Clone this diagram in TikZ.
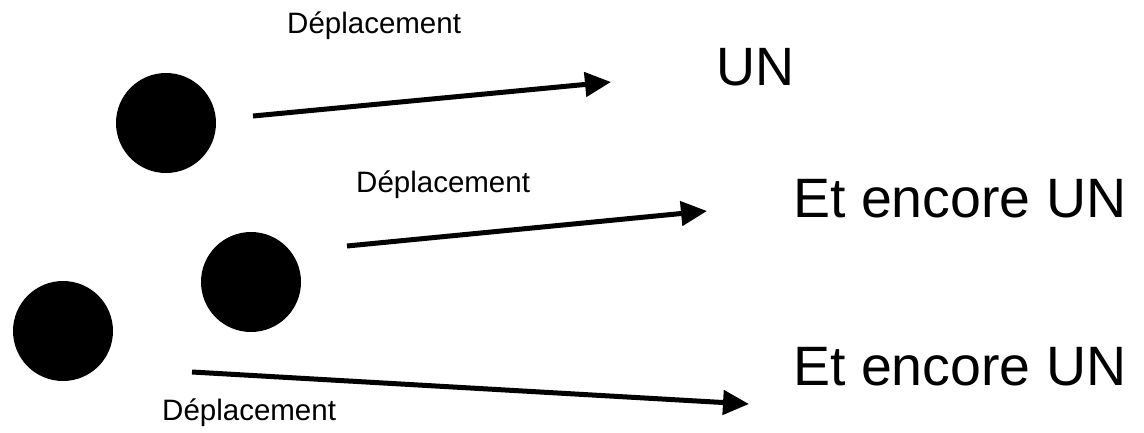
\documentclass[tikz,border=0pt]{standalone}
\usepackage{fontspec}
\setmainfont{Liberation Sans}
\usetikzlibrary{arrows.meta}
\begin{document}
\begin{tikzpicture}[x=1pt,y=-1pt,
  ball/.style={circle,fill=black,draw=none,inner sep=0pt,minimum size=100pt},
  move/.style={line width=5pt,-{Triangle[length=26pt,width=24pt]}},
  lab/.style={font=\fontsize{29.5}{33}\selectfont,inner sep=0pt,anchor=base west},
  big/.style={font=\fontsize{55.5}{62}\selectfont,inner sep=0pt,anchor=base west}]
\useasboundingbox (0,0) rectangle (1144,432);
\node[ball] (b1) at (166,123) {};
\node[ball] (b2) at (251,282) {};
\node[ball] (b3) at (63,331) {};
\coordinate (s1) at (253,116); \coordinate (e1) at (611,82);
\coordinate (s2) at (347,246); \coordinate (e2) at (707,211);
\coordinate (s3) at (192,372); \coordinate (e3) at (749,404);
\draw[move] (s1) -- (e1);
\draw[move] (s2) -- (e2);
\draw[move] (s3) -- (e3);
\node[lab] (d1) at (287,33) {Déplacement};
\node[lab] (d2) at (356,192) {Déplacement};
\node[lab] (d3) at (162,420) {Déplacement};
\node[big,font=\fontsize{54}{60}\selectfont] (t1) at (716,85) {UN};
\node[big] (t2) at (793,217) {Et encore UN};
\node[big] (t3) at (793,385) {Et encore UN};
\end{tikzpicture}
\end{document}
